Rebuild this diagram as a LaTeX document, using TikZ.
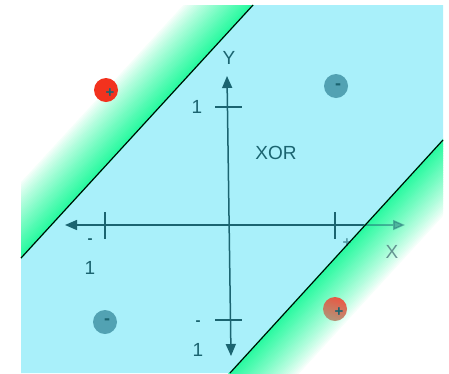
\documentclass[tikz,border=0pt]{standalone}
\usepackage{fontspec}
\setmainfont{Liberation Sans}
\usetikzlibrary{arrows.meta,positioning,calc}
\definecolor{bandcyan}{HTML}{A9F0FA}
\definecolor{axisteal}{HTML}{1B6470}
\definecolor{dotteal}{HTML}{52A2B3}
\definecolor{dotred}{HTML}{F2321E}
\definecolor{mint}{RGB}{40,250,160}
\tikzset{
  axisline/.style={draw=axisteal, fill=axisteal, line width=1.5pt,
    {Triangle[length=12pt,width=10pt]}-{Triangle[length=12pt,width=10pt]}},
  tickmark/.style={draw=axisteal, line width=1.8pt},
  axislabel/.style={text=axisteal, font=\fontsize{19}{22}\selectfont, inner sep=0pt},
  signlabel/.style={text=axisteal, font=\fontsize{15}{18}\selectfont\bfseries, inner sep=0pt},
  dotsign/.style={text=axisteal, font=\fontsize{18}{20}\selectfont\bfseries, inner sep=0pt},
  tealdot/.style={circle, fill=dotteal, minimum size=24pt, inner sep=0pt},
  reddot/.style={circle, fill=dotred, minimum size=24pt, inner sep=0pt},
  fadestrip/.style={line width=2.4pt},
  boundary/.style={draw=black, line width=1.1pt}
}

\begin{document}
\begin{tikzpicture}[x=1pt,y=-1pt]
  \useasboundingbox (0,0) rectangle (449,373);
  % frame and the two separating lines
  \coordinate (tl) at (21,5);
  \coordinate (tr) at (443,5);
  \coordinate (br) at (443,373);
  \coordinate (bl) at (21,373);
  \coordinate (ulA) at (21,258);
  \coordinate (ulB) at (253,5);
  \coordinate (lrA) at (230,373);
  \coordinate (lrB) at (443,140);
  \fill[bandcyan] (ulA) -- (ulB) -- (tr) -- (lrB) -- (lrA) -- (bl) -- cycle;

  % axes
  \coordinate (xl) at (65,225);
  \coordinate (xr) at (405,225);
  \coordinate (yt) at (227,76);
  \coordinate (yb) at (231,356);
  \draw[axisline] (xl) -- (xr);
  \draw[axisline] (yb) -- (yt);
  \draw[tickmark] (105,212) -- (105,239);
  \draw[tickmark] (335,212) -- (335,239);
  \draw[tickmark] (215,107) -- (242,107);
  \draw[tickmark] (215,320) -- (242,320);

  \node[axislabel] (yone) at (197,107) {1};
  \node[signlabel] (xmin) at (90,241) {-};
  \node[axislabel] (xone) at (90,268) {1};
  \node[signlabel] (ymin) at (198,323) {-};
  \node[axislabel] (ymone) at (198,350) {1};
  \node[axislabel] (yname) at (229,58) {Y};
  \node[axislabel] (xor) at (276,153) {XOR};

  % points
  \node[tealdot] (dotUR) at (336,86) {};
  \node[dotsign] at ([shift={(2,1)}]dotUR.center) {-};
  \node[tealdot] (dotLL) at (105,322) {};
  \node[dotsign] at ([shift={(2,0)}]dotLL.center) {-};

  % green fades outside the band
  \coordinate (ulP) at ($(ulA)!-0.4!(ulB)$);
  \coordinate (ulQ) at ($(ulA)!1.4!(ulB)$);
  \coordinate (lrP) at ($(lrA)!-0.4!(lrB)$);
  \coordinate (lrQ) at ($(lrA)!1.4!(lrB)$);
  \begin{scope}
    \clip (tl) rectangle (br);
    \foreach \i [evaluate=\i as \p using {int(100*(\i/32)^0.85)},
                 evaluate=\i as \d using {1.6*(32-\i)+0.4}] in {0,...,32} {
      \draw[fadestrip, mint!\p!white]
        ($(ulP)+({-0.737*\d},{-0.676*\d})$) -- ($(ulQ)+({-0.737*\d},{-0.676*\d})$);
      \draw[fadestrip, mint!\p!white]
        ($(lrP)+({0.738*\d},{0.675*\d})$) -- ($(lrQ)+({0.738*\d},{0.675*\d})$);
    }
  \end{scope}
  % what shows faintly through the lower green
  \begin{scope}
    \clip (lrA) -- (lrB) -- (br) -- cycle;
    \draw[axisline, opacity=0.45] (xl) -- (xr);
  \end{scope}
  \node[signlabel, opacity=0.6] (xplus) at (347,243) {+};
  \node[axislabel, text=axisteal!55!gray, opacity=0.75] (xname) at (392,252) {X};
  \draw[boundary] (ulA) -- (ulB);
  \draw[boundary] (lrA) -- (lrB);

  \node[reddot] (dotUL) at (106,90) {};
  \node[signlabel] at ([shift={(4,3)}]dotUL.center) {+};
  \node[reddot, fill=none, left color=dotred!90!white, right color={rgb,255:red,175;green,140;blue,112},
        shading angle=-20, opacity=0.9] (dotLR) at (335,309) {};
  \node[signlabel] at ([shift={(4,3)}]dotLR.center) {+};
\end{tikzpicture}
\end{document}
